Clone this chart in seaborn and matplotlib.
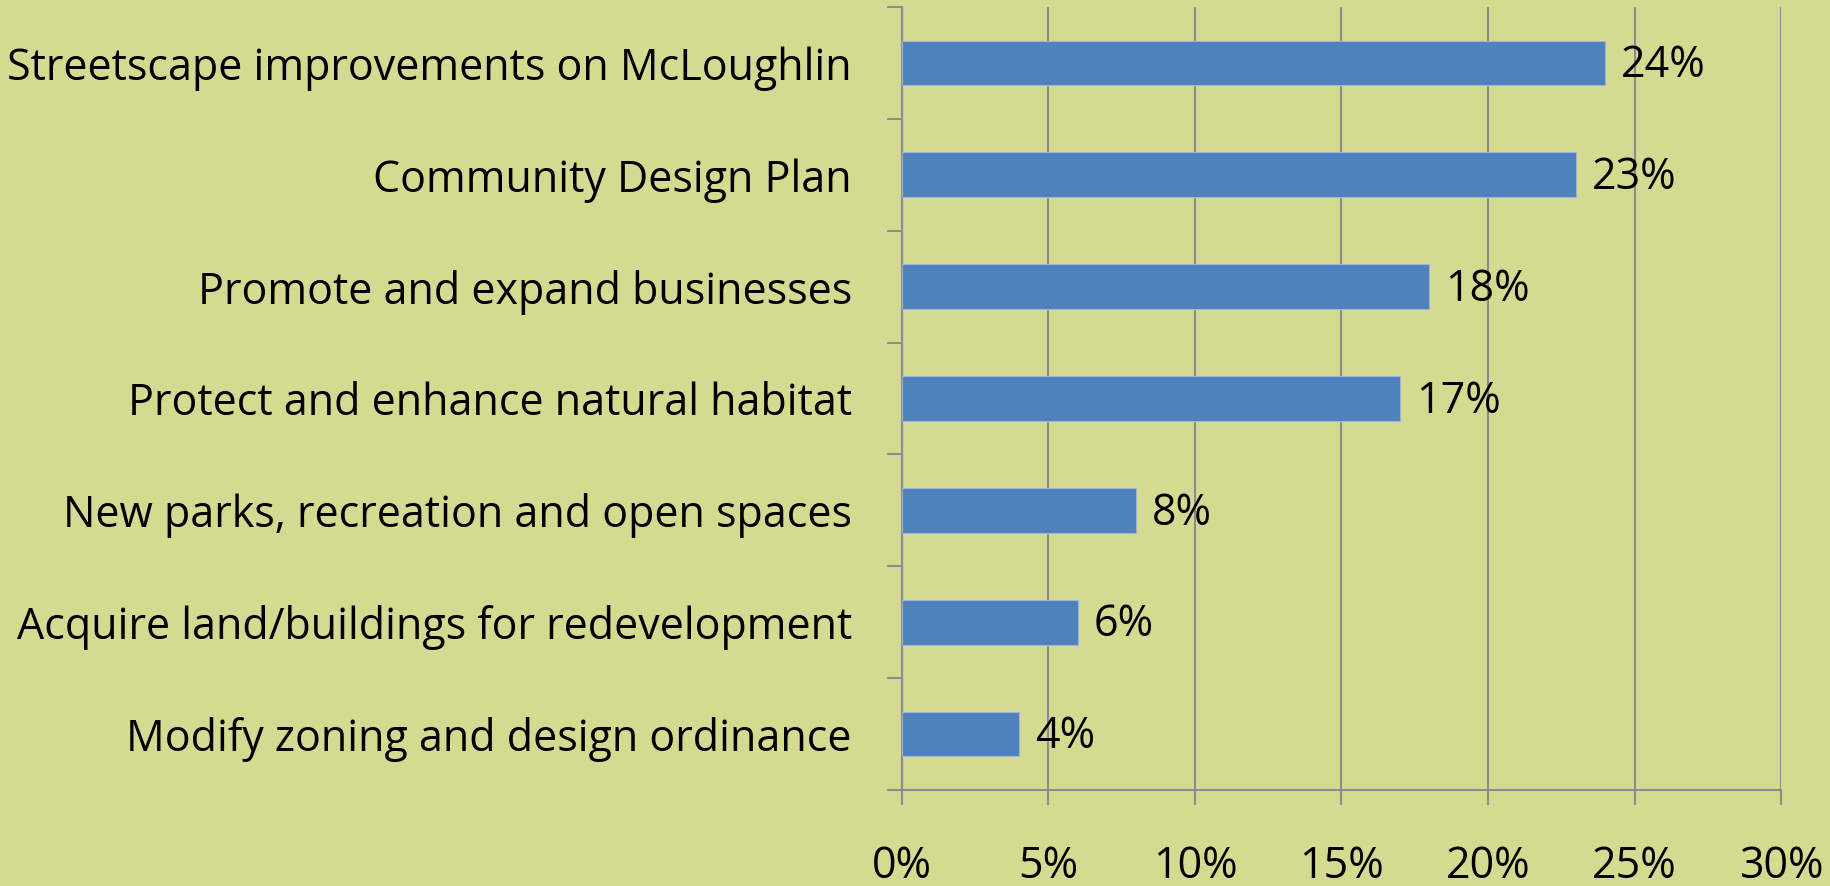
import numpy as np
import pandas as pd
import matplotlib
matplotlib.use('Agg')
import matplotlib.pyplot as plt
from matplotlib.ticker import FixedLocator
import seaborn as sns

categories = ['Streetscape improvements on McLoughlin',
              'Community Design Plan',
              'Promote and expand businesses',
              'Protect and enhance natural habitat',
              'New parks, recreation and open spaces',
              'Acquire land/buildings for redevelopment',
              'Modify zoning and design ordinance']
values = [24, 23, 18, 17, 8, 6, 4]
x_ticks = [0, 5, 10, 15, 20, 25, 30]

bg = '#D4DB90'
bar_color = '#4F81BD'
grid_color = '#8C8C8C'

sns.set_style('white')
plt.rcParams['font.family'] = ['Open Sans', 'DejaVu Sans']

df = pd.DataFrame({'cat': categories, 'val': values})

fig = plt.figure(figsize=(18.31, 8.86), dpi=100, facecolor=bg)
ax = fig.add_axes([0.4926, 0.1084, 0.9727 - 0.4926, 0.9921 - 0.1084])
ax.set_facecolor(bg)

sns.barplot(data=df, x='val', y='cat', orient='h', color=bar_color,
            width=0.4, saturation=1, edgecolor='#9DB6D6', linewidth=0.8,
            ax=ax, zorder=3)

ax.set_xlim(0, 30)
ax.set_ylim(len(categories) - 0.5, -0.5)
ax.set_xticks(x_ticks)
ax.set_xticklabels([f'{t}%' for t in x_ticks])
ax.xaxis.grid(True, color=grid_color, linewidth=1.5, zorder=0)
ax.tick_params(axis='x', bottom=True, length=11, width=1.5, color=grid_color,
               pad=28, direction='out', labelsize=31, labelcolor='black')

ax.tick_params(axis='y', which='major', left=True, length=0, pad=36,
               labelsize=31, labelcolor='black')
ax.yaxis.set_minor_locator(FixedLocator(np.arange(-0.5, len(categories), 1.0)))
ax.tick_params(axis='y', which='minor', left=True, length=11, width=1.5,
               color=grid_color, direction='out')

for s in ['top', 'right']:
    ax.spines[s].set_visible(False)
for s in ['left', 'bottom']:
    ax.spines[s].set_color(grid_color)
    ax.spines[s].set_linewidth(1.5)

ax.set_xlabel('')
ax.set_ylabel('')

for i, v in enumerate(values):
    ax.annotate(f'{v}%', xy=(v, i), xytext=(16, -3), textcoords='offset pixels',
                va='center', ha='left', fontsize=31, color='black', zorder=4)

fig.savefig('out.png', dpi=100, facecolor=bg)
